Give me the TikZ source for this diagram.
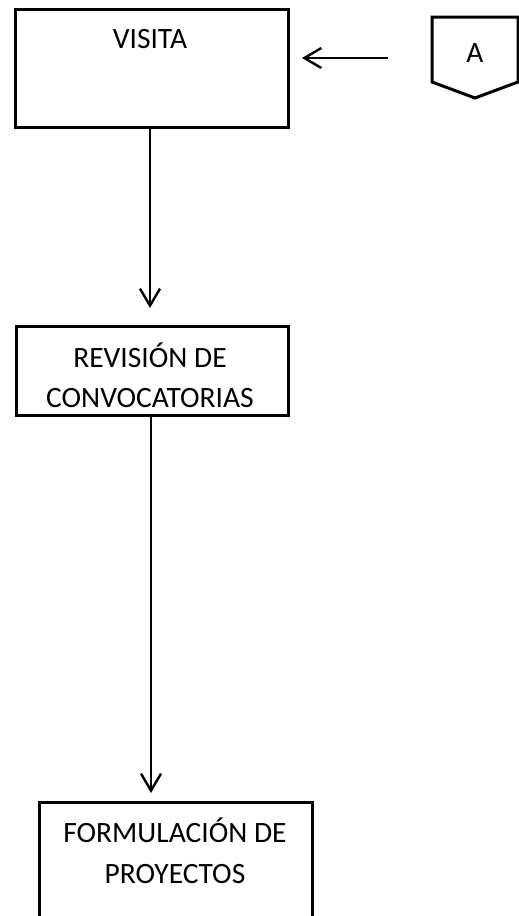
\documentclass[tikz,border=0pt]{standalone}
\usepackage{fontspec}
\setmainfont{Carlito}
\usetikzlibrary{arrows.meta}
\tikzset{
  box/.style={draw=black, line width=3pt, rectangle, inner sep=0pt},
  flowarrow/.style={draw=black, line width=2.4pt, -{Straight Barb[length=17pt,width=20pt,line width=2.4pt]}},
  lbl/.style={font=\fontsize{29.5}{40}\selectfont, align=center, inner sep=0pt}
}
\begin{document}
\begin{tikzpicture}[x=1pt,y=-1pt]
\useasboundingbox (0,0) rectangle (519,916);
% boxes
\node[box, minimum width=273pt, minimum height=118pt] (visita) at (151.5,68) {};
\node[box, minimum width=272pt, minimum height=89pt] (revision) at (152,370.5) {};
\node[box, minimum width=273pt, minimum height=140pt] (formul) at (175.5,872) {};
% connector A
\draw[line width=3pt, line join=miter] (432,17) -- (518,17) -- (518,82) -- (475,98) -- (432,82) -- cycle;
\node[lbl, anchor=base] (aL) at (475,62) {A};
\coordinate (aW) at (388,58);
\coordinate (aE) at (302,58);
% labels
\node[lbl, anchor=base] (tv) at (150,48) {VISITA};
\node[lbl, anchor=base] (tr1) at (150,367) {REVISIÓN DE};
\node[lbl, anchor=base] (tr2) at (150,407) {CONVOCATORIAS};
\node[lbl, anchor=base] (tf1) at (175,842) {FORMULACIÓN DE};
\node[lbl, anchor=base] (tf2) at (175,883) {PROYECTOS};
% arrows
\coordinate (t1) at (150,308);
\coordinate (t2) at (151,793);
\draw[flowarrow] (visita.south -| t1) -- (t1);
\draw[flowarrow] (revision.south -| t2) -- (t2);
\draw[flowarrow] (aW) -- (aE);
\end{tikzpicture}
\end{document}
